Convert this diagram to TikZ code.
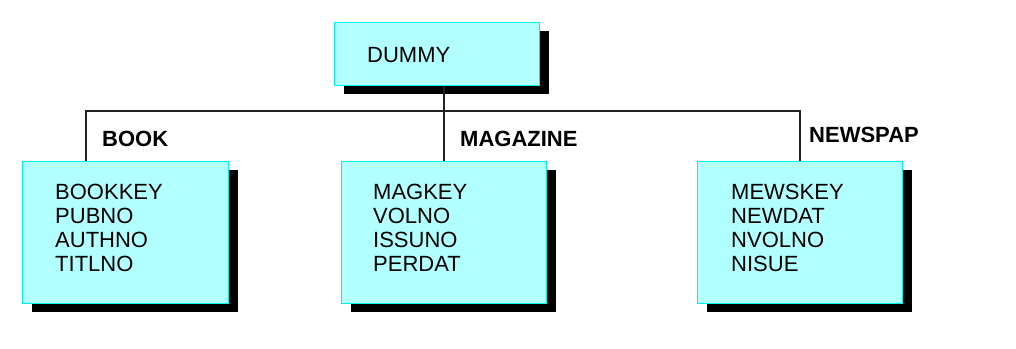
\documentclass[tikz,border=0pt]{standalone}
\usepackage{fontspec}
\setmainfont{Liberation Sans}
\usetikzlibrary{shadows,calc}
\definecolor{boxfill}{HTML}{B2FFFF}
\definecolor{boxline}{HTML}{00F0F0}
\definecolor{linecol}{HTML}{222222}
\tikzset{
  recbox/.style={rectangle, draw=boxline, line width=1pt, fill=boxfill, inner sep=0pt,
    minimum width=#1, minimum height=142pt, anchor=north west,
    drop shadow={shadow xshift=9pt, shadow yshift=-8pt, opacity=1, fill=black}},
  fieldtxt/.style={anchor=north west, inner sep=0pt, align=left,
    font=\fontsize{22}{24}\selectfont},
  seglbl/.style={anchor=base west, inner sep=0pt, font=\fontsize{22}{24}\selectfont\bfseries},
  conn/.style={draw=linecol, line width=1.3pt}
}
\begin{document}
\begin{tikzpicture}[x=1pt,y=-1pt]
\fill[white] (0,0) rectangle (1016,348);
\useasboundingbox (0,0) rectangle (1016,348);
% root
\node[recbox=205pt, minimum height=63pt] (dummy) at (334,22) {};
\node[anchor=base west, inner sep=0pt, font=\fontsize{22}{24}\selectfont] (dummytxt) at (367,62) {DUMMY};
% children
\node[recbox=206pt] (book) at (22,161) {};
\node[recbox=205pt] (mag) at (341,161) {};
\node[recbox=205pt] (news) at (697,161) {};
\node[fieldtxt] (booktxt) at (55,184) {BOOKKEY\\PUBNO\\AUTHNO\\TITLNO};
\node[fieldtxt] (magtxt) at (373,184) {MAGKEY\\VOLNO\\ISSUNO\\PERDAT};
\node[fieldtxt] (newstxt) at (731,184) {MEWSKEY\\NEWDAT\\NVOLNO\\NISUE};
% labels
\node[seglbl] (booklbl) at (102,146) {BOOK};
\node[seglbl] (maglbl) at (460,146) {MAGAZINE};
\node[seglbl] (newslbl) at (809,142) {NEWSPAP};
% connectors
\coordinate (bk) at ($(book.north west)+(64,0)$);
\coordinate (hub) at (mag.north |- 0,111);
\draw[conn] (bk) |- (hub) -| (news.north);
\draw[conn] (mag.north) -- (mag.north |- dummy.south);
\end{tikzpicture}
\end{document}
